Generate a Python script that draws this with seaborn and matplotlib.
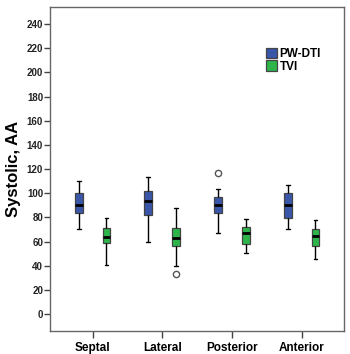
import numpy as np
import pandas as pd
import matplotlib
matplotlib.use("Agg")
import matplotlib.pyplot as plt
import seaborn as sns

# values (five-number summary per box, plus outliers)
regions = ["Septal", "Lateral", "Posterior", "Anterior"]
methods = ["PW-DTI", "TVI"]

pw_lo = [70, 60, 67, 70]
pw_q1 = [83.3, 82, 84, 79.7]
pw_med = [90.5, 93.5, 90.5, 90.5]
pw_q3 = [100, 101.8, 97, 100]
pw_hi = [110, 113.7, 103.5, 106.8]
pw_out = [None, None, 117, None]

tvi_lo = [41, 39.7, 50.8, 45.5]
tvi_q1 = [58.5, 56.5, 57.7, 56.5]
tvi_med = [64, 63, 67.4, 65]
tvi_q3 = [71, 71, 72.3, 70.4]
tvi_hi = [79.7, 87.5, 79, 78.2]
tvi_out = [None, 33.4, None, None]

yticks = list(range(0, 241, 20))


def box_values(lo, q1, med, q3, hi, out=None):
    # nine points whose quartiles / whiskers reproduce the summary
    vals = [lo, lo, q1, q1, med, q3, q3, hi, hi]
    if out is not None:
        if out < lo:
            vals[0] = out
        else:
            vals[-1] = out
    return vals


rows = []
for i, reg in enumerate(regions):
    for v in box_values(pw_lo[i], pw_q1[i], pw_med[i], pw_q3[i], pw_hi[i], pw_out[i]):
        rows.append((reg, "PW-DTI", v))
    for v in box_values(tvi_lo[i], tvi_q1[i], tvi_med[i], tvi_q3[i], tvi_hi[i], tvi_out[i]):
        rows.append((reg, "TVI", v))
df = pd.DataFrame(rows, columns=["Region", "Method", "Systolic"])

sns.set_style("white")
plt.rcParams["font.family"] = ["Liberation Sans", "DejaVu Sans"]

fig = plt.figure(figsize=(3.5, 3.54), dpi=100)
ax = fig.add_axes([0.143, 0.065, 0.84, 0.915])

palette = {"PW-DTI": "#3a56a8", "TVI": "#2db54a"}
sns.boxplot(data=df, x="Region", y="Systolic", hue="Method", order=regions,
            hue_order=methods, palette=palette, width=0.8, gap=0.72,
            linecolor="#444444", linewidth=0.9, whis=1.5, saturation=1,
            medianprops=dict(color="black", linewidth=2),
            whiskerprops=dict(color="black", linewidth=1),
            capprops=dict(color="black", linewidth=1),
            flierprops=dict(marker="o", markerfacecolor="white",
                            markeredgecolor="#555555", markersize=4.5,
                            markeredgewidth=1),
            ax=ax)

ax.set_xlim(-0.61, 3.61)
ax.set_ylim(-14, 254)
ax.set_yticks(yticks)
ax.set_yticklabels([str(t) for t in yticks], fontsize=7, fontweight="bold",
                   color="#222222")
ax.set_xticks(range(len(regions)))
ax.set_xticklabels(regions, fontsize=8.5, fontweight="bold", color="black")
ax.tick_params(axis="y", length=4, width=1, color="#444444", pad=1, left=True)
ax.tick_params(axis="x", length=5, width=1, color="#444444", pad=3, bottom=True)
ax.set_xlabel("")
ax.set_ylabel("Systolic, AA", fontsize=12, fontweight="bold", labelpad=4,
              color="black")

for s in ax.spines.values():
    s.set_visible(True)
    s.set_color("#666666")
    s.set_linewidth(1)

leg = ax.legend(loc="upper left", bbox_to_anchor=(0.716, 0.893), frameon=False,
                prop=dict(size=8.5, weight="bold"), handlelength=0.9,
                handleheight=0.95, handletextpad=0.2, labelspacing=0.05,
                borderpad=0, title=None)
for t in leg.get_texts():
    t.set_color("black")

fig.savefig("out.png", dpi=100)
